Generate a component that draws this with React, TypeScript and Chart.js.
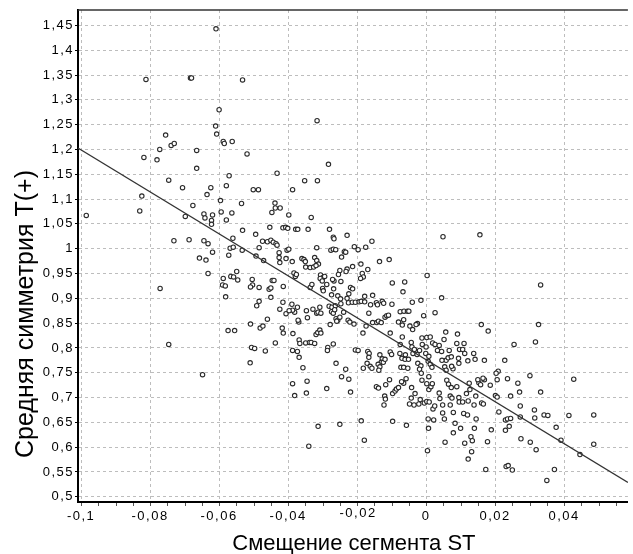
import { useEffect, useRef } from "react";
import { Chart, registerables } from "chart.js";

Chart.register(...registerables);

const xLabel = "Смещение сегмента ST";
const yLabel = "Средняя симметрия T(+)";
const xTicks = [-0.1, -0.08, -0.06, -0.04, -0.02, 0, 0.02, 0.04];
const yTicks = [0.5, 0.55, 0.6, 0.65, 0.7, 0.75, 0.8, 0.85, 0.9, 0.95, 1, 1.05, 1.1, 1.15, 1.2, 1.25, 1.3, 1.35, 1.4, 1.45];
const raisedXTick = -0.02;
const xRange = [-0.1009, 0.0585];
const yRange = [0.4895, 1.481];
const trendX = [-0.1009, 0.0585];
const trendY = [1.203, 0.529];

const points: [number, number][] = [
  [-0.0609, 1.443], [-0.0812, 1.341], [-0.0683, 1.344], [-0.068, 1.344], [-0.0532, 1.34], [-0.06, 1.28],
  [-0.061, 1.247], [-0.0607, 1.231], [-0.0755, 1.229], [-0.0588, 1.216], [-0.0585, 1.212], [-0.0562, 1.216],
  [-0.0739, 1.208], [-0.073, 1.212], [-0.0772, 1.2], [-0.0665, 1.198], [-0.0519, 1.191], [-0.0818, 1.184],
  [-0.078, 1.179], [-0.0665, 1.162], [-0.0432, 1.152], [-0.0571, 1.147], [-0.0746, 1.138], [-0.0579, 1.127],
  [-0.0706, 1.123], [-0.0624, 1.123], [-0.0501, 1.119], [-0.0486, 1.119], [-0.0387, 1.119], [-0.0352, 1.137],
  [-0.0635, 1.109], [-0.0824, 1.106], [-0.0596, 1.097], [-0.0985, 1.067], [-0.083, 1.076], [-0.0676, 1.087],
  [-0.0535, 1.091], [-0.0698, 1.065], [-0.0644, 1.07], [-0.0641, 1.062], [-0.0619, 1.068], [-0.0622, 1.057],
  [-0.0622, 1.049], [-0.0594, 1.074], [-0.0579, 1.058], [-0.0563, 1.072], [-0.0532, 1.037], [-0.0494, 1.029],
  [-0.0731, 1.016], [-0.0687, 1.018], [-0.0644, 1.016], [-0.0632, 1.01], [-0.056, 1.021], [-0.0568, 1.001],
  [-0.0559, 1.003], [-0.0533, 0.997], [-0.0619, 0.993], [-0.0572, 0.987], [-0.0657, 0.981], [-0.0638, 0.977],
  [-0.0493, 0.985], [-0.0632, 0.95], [-0.0549, 0.954], [-0.0588, 0.94], [-0.0566, 0.944], [-0.0558, 0.943],
  [-0.0546, 0.937], [-0.0504, 0.938], [-0.059, 0.927], [-0.0582, 0.925], [-0.0503, 0.927], [-0.0509, 0.923],
  [-0.0771, 0.92], [-0.0581, 0.903], [-0.0491, 0.885], [-0.0574, 0.835], [-0.0555, 0.835], [-0.0746, 0.807],
  [-0.0506, 0.801], [-0.0497, 0.799], [-0.051, 0.77], [-0.0648, 0.746], [-0.0316, 1.258], [-0.0283, 1.17],
  [0.0332, 0.927], [0.018, 0.834], [0.0326, 0.847], [0.0255, 0.807], [0.0317, 0.812], [0.0228, 0.775],
  [0.0209, 0.753], [0.0203, 0.749], [0.0206, 0.736], [0.0236, 0.738], [0.0301, 0.744], [0.0266, 0.729],
  [0.0186, 0.725], [0.0428, 0.737],
  [-0.0347, 0.709], [-0.0288, 0.718], [-0.0219, 0.711], [-0.0313, 0.642], [-0.025, 0.646], [-0.034, 0.602],
  [-0.0188, 0.653], [-0.0179, 0.614], [-0.0097, 0.652], [-0.0057, 0.644], [-0.0144, 0.722], [-0.0138, 0.719],
  [-0.0117, 0.726], [-0.012, 0.703], [-0.0118, 0.697], [-0.0122, 0.685], [-0.0097, 0.708], [-0.009, 0.713],
  [-0.0086, 0.717], [-0.008, 0.72], [-0.0065, 0.729], [-0.0071, 0.732], [-0.0042, 0.72], [-0.0043, 0.699],
  [-0.0048, 0.687], [-0.0035, 0.685], [-0.0021, 0.687], [-0.0032, 0.708], [-0.0017, 0.696], [-0.0012, 0.735],
  [0.0002, 0.728], [0.0008, 0.716], [0.0014, 0.722], [0.0018, 0.728], [-0.0005, 0.689], [0.0002, 0.692],
  [0.0009, 0.691], [0.0006, 0.657], [0.0022, 0.655], [0.0007, 0.638], [0.0004, 0.593], [0.002, 0.677],
  [0.0025, 0.683], [0.0038, 0.709], [0.004, 0.698], [0.0048, 0.685], [0.0048, 0.669], [0.0053, 0.657],
  [0.0055, 0.61], [0.006, 0.735], [0.0065, 0.727], [0.0073, 0.72], [0.007, 0.703], [0.0075, 0.699],
  [0.007, 0.685], [0.0079, 0.67], [0.0084, 0.648], [0.0079, 0.629], [0.0089, 0.722], [0.0095, 0.7],
  [0.0096, 0.691], [0.0106, 0.691], [0.0109, 0.668], [0.012, 0.665], [0.0117, 0.708], [0.0122, 0.693],
  [0.01, 0.638], [0.0112, 0.608], [0.0122, 0.576], [0.0125, 0.729], [0.0127, 0.716], [0.013, 0.621],
  [0.0134, 0.613], [0.0132, 0.591], [0.0139, 0.685], [0.0145, 0.657], [0.014, 0.638], [0.0144, 0.703],
  [0.0153, 0.73], [0.0158, 0.726], [0.0161, 0.689], [0.0166, 0.687], [0.0173, 0.555], [0.0178, 0.611],
  [0.0189, 0.635], [0.0201, 0.704], [0.0206, 0.701], [0.0211, 0.671], [0.023, 0.655], [0.0236, 0.657],
  [0.0245, 0.658], [0.023, 0.634], [0.0241, 0.642], [0.0232, 0.561], [0.0238, 0.563], [0.025, 0.554],
  [0.0245, 0.703], [0.0271, 0.711], [0.0273, 0.683], [0.0273, 0.661], [0.0275, 0.617], [0.0302, 0.61],
  [0.0314, 0.675], [0.0315, 0.659], [0.0319, 0.595], [0.0332, 0.711], [0.0342, 0.665], [0.0353, 0.664],
  [0.035, 0.533], [0.0372, 0.555], [0.0377, 0.64], [0.0391, 0.614], [0.0414, 0.664], [0.0446, 0.585],
  [0.0486, 0.665], [0.0486, 0.606], [-0.0381, 0.704], [-0.0345, 0.733],
  [-0.0315, 1.137], [-0.0438, 1.092], [-0.0447, 1.073], [-0.0437, 1.082], [-0.0423, 1.082], [-0.0398, 1.068],
  [-0.0333, 1.063], [-0.0453, 1.043], [-0.0415, 1.042], [-0.0407, 1.043], [-0.0401, 1.041], [-0.0378, 1.039],
  [-0.0372, 1.039], [-0.0342, 1.039], [-0.028, 1.039], [-0.0269, 1.023], [-0.0267, 1.02], [-0.0229, 1.027],
  [-0.0474, 1.015], [-0.046, 1.014], [-0.045, 1.017], [-0.0443, 1.013], [-0.0435, 1.01], [-0.0432, 1.007],
  [-0.0484, 1.002], [-0.0426, 0.992], [-0.0403, 0.997], [-0.0398, 0.999], [-0.0317, 1.002], [-0.0276, 0.997],
  [-0.0269, 0.999], [-0.0262, 0.998], [-0.0245, 0.983], [-0.0237, 0.994], [-0.0233, 0.993], [-0.0208, 1.004],
  [-0.0197, 0.998], [-0.0175, 1.003], [-0.0157, 1.015], [-0.0471, 0.976], [-0.0426, 0.982], [-0.0424, 0.972],
  [-0.0406, 0.98], [-0.0388, 0.974], [-0.036, 0.98], [-0.0354, 0.978], [-0.035, 0.974], [-0.0323, 0.982],
  [-0.0317, 0.976], [-0.0312, 0.969], [-0.0349, 0.963], [-0.0336, 0.962], [-0.0326, 0.963], [-0.0319, 0.966],
  [-0.025, 0.956], [-0.0254, 0.948], [-0.0229, 0.959], [-0.0232, 0.954], [-0.0213, 0.964], [-0.0189, 0.969],
  [-0.0185, 0.95], [-0.0182, 0.943], [-0.019, 0.94], [-0.0169, 0.958], [-0.0135, 0.974], [-0.0107, 0.978],
  [-0.0484, 0.922], [-0.0446, 0.936], [-0.0441, 0.936], [-0.0455, 0.918], [-0.045, 0.921], [-0.0414, 0.924],
  [-0.0383, 0.951], [-0.0379, 0.944], [-0.0376, 0.948], [-0.0336, 0.922], [-0.0331, 0.928], [-0.0306, 0.947],
  [-0.0299, 0.942], [-0.0294, 0.944], [-0.0307, 0.94], [-0.0301, 0.935], [-0.0288, 0.928], [-0.0267, 0.935],
  [-0.0271, 0.938], [-0.0247, 0.934], [-0.0268, 0.919], [-0.03, 0.92], [-0.0298, 0.915], [-0.0219, 0.922],
  [-0.0213, 0.919], [-0.0224, 0.909], [-0.0274, 0.907], [-0.0256, 0.905], [-0.0229, 0.9], [-0.045, 0.902],
  [-0.0098, 0.931], [-0.0062, 0.933], [0.0003, 0.946], [-0.0067, 0.913], [-0.0155, 0.906], [-0.0178, 0.904],
  [0.0045, 0.901], [-0.0484, 0.894], [-0.0415, 0.892], [-0.0389, 0.888], [-0.0381, 0.872], [-0.0387, 0.876],
  [-0.0373, 0.882], [-0.0406, 0.869], [-0.0397, 0.875], [-0.0424, 0.878], [-0.0347, 0.875], [-0.0328, 0.878],
  [-0.0317, 0.87], [-0.0313, 0.872], [-0.0305, 0.87], [-0.0308, 0.882], [-0.0281, 0.884], [-0.0273, 0.882],
  [-0.0263, 0.885], [-0.0274, 0.873], [-0.0269, 0.87], [-0.0265, 0.877], [-0.0239, 0.872], [-0.0225, 0.891],
  [-0.0214, 0.892], [-0.0205, 0.892], [-0.0194, 0.893], [-0.0188, 0.894], [-0.0178, 0.893], [-0.0247, 0.889],
  [-0.0248, 0.899], [-0.0166, 0.87], [-0.0161, 0.887], [-0.0144, 0.891], [-0.0141, 0.887], [-0.0127, 0.894],
  [-0.0123, 0.89], [-0.0099, 0.888], [-0.004, 0.892], [-0.0075, 0.873], [-0.0064, 0.874], [-0.0054, 0.874],
  [-0.0015, 0.896], [0.0026, 0.871], [-0.0509, 0.848], [-0.0481, 0.84], [-0.0473, 0.844], [-0.046, 0.858],
  [-0.0417, 0.84], [-0.0414, 0.83], [-0.0386, 0.829], [-0.0369, 0.852], [-0.0371, 0.856], [-0.0344, 0.861],
  [-0.0319, 0.827], [-0.0314, 0.831], [-0.0308, 0.836], [-0.0305, 0.83], [-0.0278, 0.847], [-0.0261, 0.859],
  [-0.0256, 0.856], [-0.0259, 0.854], [-0.025, 0.862], [-0.0226, 0.856], [-0.0221, 0.852], [-0.0209, 0.848],
  [-0.0174, 0.844], [-0.0155, 0.851], [-0.0143, 0.851], [-0.0138, 0.854], [-0.013, 0.851], [-0.0119, 0.862],
  [-0.0114, 0.865], [-0.0109, 0.866], [-0.0104, 0.83], [-0.008, 0.852], [-0.0065, 0.857], [-0.0069, 0.846],
  [-0.005, 0.874], [-0.0047, 0.844], [-0.0039, 0.837], [-0.0025, 0.849], [-0.0029, 0.847], [-0.0007, 0.865],
  [0.0002, 0.821], [0.0057, 0.832], [-0.0466, 0.794], [-0.0437, 0.81], [-0.0387, 0.795], [-0.0373, 0.793],
  [-0.0368, 0.816], [-0.0366, 0.809], [-0.0349, 0.81], [-0.0338, 0.811], [-0.0333, 0.811], [-0.0323, 0.809],
  [-0.0285, 0.801], [-0.0286, 0.795], [-0.0269, 0.808], [-0.0368, 0.781], [-0.0357, 0.76], [-0.0205, 0.796],
  [-0.0197, 0.795], [-0.0183, 0.83], [-0.0169, 0.793], [-0.0165, 0.789], [-0.0166, 0.781], [-0.0171, 0.769],
  [-0.0162, 0.763], [-0.0157, 0.759], [-0.0134, 0.786], [-0.0127, 0.778], [-0.013, 0.771], [-0.0139, 0.767],
  [-0.0134, 0.762], [-0.0137, 0.755], [-0.0124, 0.771], [-0.0119, 0.777], [-0.0104, 0.792], [-0.01, 0.787],
  [-0.0075, 0.807], [-0.0069, 0.822], [-0.0076, 0.789], [-0.006, 0.786], [-0.007, 0.779], [-0.0061, 0.777],
  [-0.0051, 0.777], [-0.0073, 0.761], [-0.0065, 0.761], [-0.0053, 0.759], [-0.0043, 0.811], [-0.0041, 0.802],
  [-0.0034, 0.797], [-0.0038, 0.789], [-0.0026, 0.787], [-0.0019, 0.795], [-0.0024, 0.769], [-0.0015, 0.764],
  [-0.0019, 0.757], [-0.0014, 0.749], [-0.0012, 0.82], [-0.0011, 0.807], [0.0, 0.802], [-0.0001, 0.789],
  [0.0008, 0.783], [0.0006, 0.773], [0.0012, 0.767], [0.0017, 0.761], [0.0012, 0.822], [0.0019, 0.81],
  [0.0026, 0.807], [0.0033, 0.795], [0.0045, 0.793], [0.0038, 0.805], [0.0052, 0.817], [0.0058, 0.775],
  [0.0064, 0.78], [0.0067, 0.795], [0.0046, 0.775], [0.0054, 0.762], [0.0058, 0.755], [0.0073, 0.782],
  [0.0078, 0.758], [0.0074, 0.763], [0.0091, 0.828], [0.0089, 0.809], [0.0097, 0.797], [0.011, 0.809],
  [0.0106, 0.797], [0.0112, 0.789], [0.0094, 0.779], [0.0095, 0.769], [0.0121, 0.774], [0.0138, 0.789],
  [0.0142, 0.777], [0.016, 0.847], [0.0169, 0.775], [0.0169, 0.736], [0.015, 0.736], [0.0165, 0.739],
  [0.0008, 0.742], [-0.0058, 0.738], [-0.0106, 0.736], [-0.0182, 0.759], [-0.0224, 0.737], [-0.0233, 0.757],
  [-0.0245, 0.742], [-0.0261, 0.769], [-0.0387, 0.728], [0.0049, 1.024], [0.0156, 1.028]
];

export default function App() {
  const ref = useRef<HTMLCanvasElement>(null);
  useEffect(() => {
    document.body.style.margin = "0";
    document.body.style.overflow = "hidden";
    const fam = "'Liberation Sans', Arial, sans-serif";
    const fmt = (v: number) => String(+Number(v).toFixed(3)).replace(".", ",");
    const xMinor: number[] = [];
    for (let i = -20; i <= 11; i++) xMinor.push(i * 0.005);

    const decor = {
      id: "decor",
      beforeDraw(chart: any) {
        chart.ctx.letterSpacing = "1.5px";
      },
      afterDraw(chart: any) {
        const { ctx, chartArea: a, scales } = chart;
        ctx.save();
        ctx.strokeStyle = "#333";
        ctx.lineWidth = 1.5;
        ctx.beginPath();
        ctx.moveTo(a.left, a.top);
        ctx.lineTo(a.right, a.top);
        ctx.stroke();
        ctx.strokeStyle = "#555";
        ctx.lineWidth = 1;
        ctx.beginPath();
        for (const v of xMinor) {
          const px = Math.round(scales.x.getPixelForValue(v)) + 0.5;
          if (px < a.left || px > a.right) continue;
          ctx.moveTo(px, a.bottom + 1);
          ctx.lineTo(px, a.bottom + 4);
        }
        ctx.stroke();
        // the raised tick label, as in the original
        ctx.fillStyle = "#000";
        ctx.font = "13px " + fam;
        ctx.letterSpacing = "1.5px";
        ctx.textAlign = "center";
        ctx.textBaseline = "alphabetic";
        ctx.fillText(fmt(raisedXTick), scales.x.getPixelForValue(raisedXTick) + 1, 517);
        // axis titles
        ctx.letterSpacing = "0px";
        ctx.font = "22px " + fam;
        ctx.fillText(xLabel, (a.left + a.right) / 2 + 1, 550);
        ctx.font = "25px " + fam;
        ctx.translate(33, 314);
        ctx.rotate(-Math.PI / 2);
        ctx.fillText(yLabel, 0, 0);
        ctx.restore();
      },
    };

    const chart = new Chart(ref.current!, {
      type: "scatter",
      data: {
        datasets: [
          {
            data: trendX.map((x, i) => ({ x, y: trendY[i] })),
            showLine: true,
            borderColor: "#333",
            borderWidth: 1.2,
            pointRadius: 0,
            fill: false,
            order: 0,
          },
          {
            data: points.map(([x, y]) => ({ x, y })),
            pointRadius: 2.2,
            pointBorderWidth: 1.1,
            pointBorderColor: "#2a2a2a",
            pointBackgroundColor: "#fff",
            order: 1,
          },
        ],
      },
      options: {
        animation: false,
        responsive: false,
        devicePixelRatio: 1,
        layout: { padding: { top: 10, left: 0, right: 0, bottom: 0 } },
        plugins: { legend: { display: false }, tooltip: { enabled: false } },
        scales: {
          x: {
            type: "linear",
            min: xRange[0],
            max: xRange[1],
            afterBuildTicks: (s: any) => {
              s.ticks = xTicks.map((value) => ({ value }));
            },
            afterFit: (s: any) => {
              s.height = 52;
            },
            ticks: {
              callback: (v: any) => fmt(v),
              font: { family: fam, size: 13 },
              color: (c: any) => (c.tick && c.tick.value === raisedXTick ? "rgba(0,0,0,0)" : "#000"),
              padding: 3,
              maxRotation: 0,
              autoSkip: false,
            },
            grid: { color: "#bdbdbd", tickColor: "#000", tickLength: 4, lineWidth: 1 },
            border: { color: "#000", width: 2, dash: [3, 3] },
          },
          y: {
            type: "linear",
            min: yRange[0],
            max: yRange[1],
            afterBuildTicks: (s: any) => {
              s.ticks = yTicks.map((value) => ({ value }));
            },
            afterFit: (s: any) => {
              s.width = 78;
            },
            ticks: {
              callback: (v: any) => fmt(v),
              font: { family: fam, size: 13 },
              color: "#000",
              padding: 1,
              autoSkip: false,
            },
            grid: { color: "#bdbdbd", tickColor: "#000", tickLength: 3, lineWidth: 1 },
            border: { color: "#000", width: 2, dash: [3, 3] },
          },
        },
      },
      plugins: [decor],
    } as any);
    return () => chart.destroy();
  }, []);
  return <canvas ref={ref} width={633} height={554} style={{ display: "block" }} />;
}
